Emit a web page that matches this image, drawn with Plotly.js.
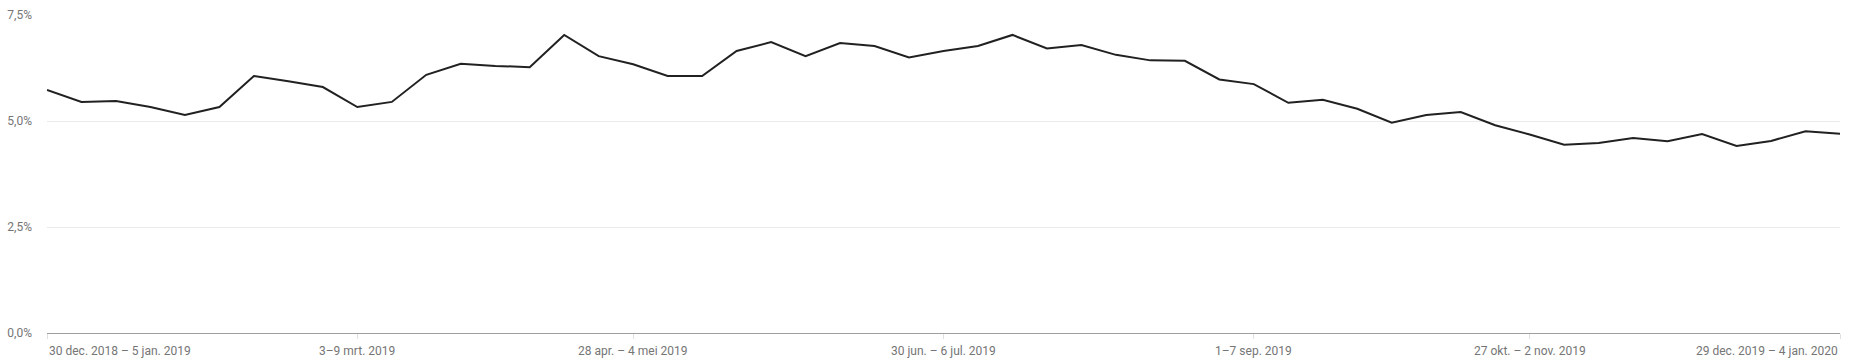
<!DOCTYPE html>
<html>
<head>
<meta charset="utf-8">
<script src="https://cdn.plot.ly/plotly-3.0.1.min.js"></script>
<style>
  html, body { margin: 0; padding: 0; background: #fff; }
  #chart { width: 1858px; height: 363px; }
</style>
</head>
<body>
<div id="chart"></div>
<script>
// Weekly share (%), weeks starting 30 dec 2018 through 29 dec 2019
const firstWeek = '2018-12-30';
const values = [
  5.73, 5.45, 5.47, 5.33, 5.14, 5.33, 6.06, 5.94, 5.80, 5.33,
  5.45, 6.09, 6.35, 6.30, 6.27, 7.03, 6.53, 6.34, 6.06, 6.06,
  6.65, 6.86, 6.53, 6.84, 6.77, 6.50, 6.65, 6.77, 7.03, 6.71,
  6.79, 6.56, 6.43, 6.42, 5.98, 5.87, 5.43, 5.50, 5.29, 4.96,
  5.14, 5.21, 4.90, 4.68, 4.44, 4.48, 4.60, 4.52, 4.69, 4.41,
  4.53, 4.76, 4.70
];
const xTickDates = ['2018-12-30', '2019-03-03', '2019-04-28', '2019-06-30', '2019-09-01', '2019-10-27', '2019-12-29'];
const xTickLabels = [
  '30 dec. 2018 – 5 jan. 2019',
  '3–9 mrt. 2019',
  '28 apr. – 4 mei 2019',
  '30 jun. – 6 jul. 2019',
  '1–7 sep. 2019',
  '27 okt. – 2 nov. 2019',
  '29 dec. 2019 – 4 jan. 2020'
];
const yTickVals = [0, 2.5, 5, 7.5];
const yTickLabels = ['0,0%', '2,5%', '5,0%', '7,5%'];

// week start dates (category domain)
const weeks = [];
{
  const d0 = new Date(firstWeek + 'T00:00:00Z');
  for (let i = 0; i < values.length; i++) {
    const d = new Date(d0.getTime() + i * 7 * 86400000);
    weeks.push(d.toISOString().slice(0, 10));
  }
}

const font = { family: 'Roboto, "Noto Sans", sans-serif', size: 12, color: '#757575' };

const annotations = xTickDates.map((d, i) => ({
  x: d, xref: 'x', y: 0, yref: 'paper',
  text: xTickLabels[i], showarrow: false,
  xanchor: i === 0 ? 'left' : (i === xTickDates.length - 1 ? 'right' : 'center'),
  yanchor: 'middle', yshift: -18,
  font: font
}));

const trace = {
  type: 'scatter', mode: 'lines',
  x: weeks, y: values,
  line: { color: '#212121', width: 2 },
  hoverinfo: 'skip'
};

const layout = {
  width: 1858, height: 363,
  margin: { l: 47, r: 18, t: 15, b: 30 },
  paper_bgcolor: '#ffffff', plot_bgcolor: '#ffffff',
  showlegend: false,
  font: font,
  xaxis: {
    type: 'date',
    range: [weeks[0], weeks[weeks.length - 1]],
    showgrid: false, zeroline: false,
    showline: true, linecolor: '#9e9e9e', linewidth: 1,
    tickvals: xTickDates, ticktext: xTickDates.map(() => ''),
    ticks: 'outside', ticklen: 5, tickcolor: '#e0e0e0', tickwidth: 1
  },
  yaxis: {
    range: [0, 7.5],
    tickvals: yTickVals, ticktext: yTickLabels,
    showgrid: true, gridcolor: '#ebebeb', gridwidth: 1,
    zeroline: false, showline: false, ticks: '',
    ticklabelstandoff: 14,
    tickfont: font
  },
  annotations: annotations
};

Plotly.newPlot('chart', [trace], layout, { staticPlot: true, displayModeBar: false });
</script>
</body>
</html>
